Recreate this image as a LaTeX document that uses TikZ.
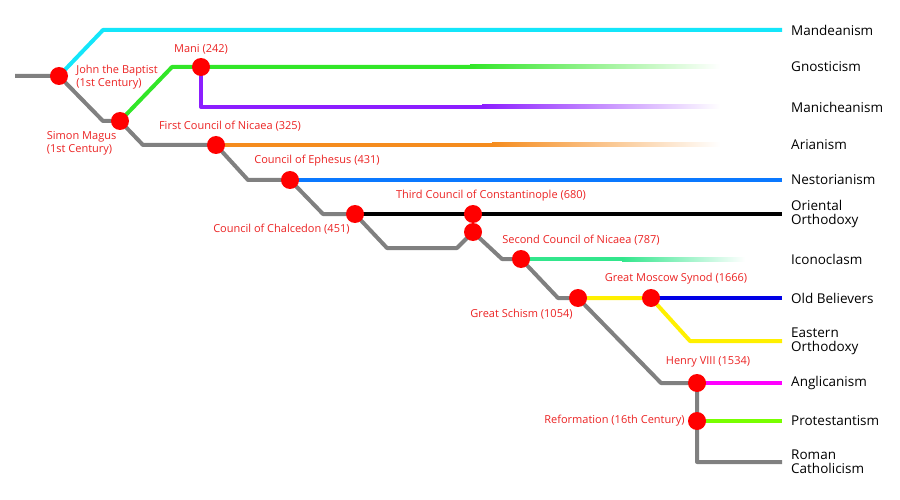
\documentclass[tikz,border=0pt]{standalone}
\usepackage{fontspec}
\setmainfont{Open Sans}
\usetikzlibrary{positioning,calc}

\definecolor{evtred}{RGB}{235,35,35}
\definecolor{trunk}{RGB}{128,128,128}
\definecolor{mandcyan}{RGB}{20,230,250}
\definecolor{gnogreen}{RGB}{50,230,40}
\definecolor{manipurple}{RGB}{140,30,255}
\definecolor{ariorange}{RGB}{245,140,30}
\definecolor{nestblue}{RGB}{10,120,255}
\definecolor{iconteal}{RGB}{50,230,140}
\definecolor{eastyellow}{RGB}{255,240,0}
\definecolor{oldblue}{RGB}{0,0,230}
\definecolor{anglmagenta}{RGB}{255,0,255}
\definecolor{protlime}{RGB}{120,255,0}

\begin{document}
\begin{tikzpicture}[x=1pt, y=-1pt,
    line/.style={line width=4pt, line join=round},
    dot/.style={circle, fill=red, minimum size=18pt, inner sep=0pt},
    evt/.style={text=evtred, font=\fontsize{11}{13}\selectfont, align=left, inner sep=0pt},
    sect/.style={font=\fontsize{13.5}{14}\selectfont, align=left, inner sep=0pt}
    ]
    \useasboundingbox (0,0) rectangle (900,500);

    % branching points
    \coordinate (start)  at (15,76);
    \coordinate (jb)     at (59,76);
    \coordinate (sm)     at (120,121);
    \coordinate (mani)   at (201,67);
    \coordinate (nic1)   at (216,145);
    \coordinate (eph)    at (290,180);
    \coordinate (chal)   at (355,214);
    \coordinate (const3) at (473,214);
    \coordinate (const2) at (473,232);
    \coordinate (nic2)   at (521,259);
    \coordinate (gs)     at (578,298);
    \coordinate (moscow) at (651,298);
    \coordinate (henry)  at (697,383);
    \coordinate (ref)    at (697,421);

    % line ends
    \coordinate (mandend)  at (782,30);
    \coordinate (gnoend)   at (782,67);
    \coordinate (maniend)  at (782,107);
    \coordinate (ariend)   at (782,145);
    \coordinate (nestend)  at (782,180);
    \coordinate (oriend)   at (782,214);
    \coordinate (iconend)  at (782,259);
    \coordinate (oldend)   at (782,298);
    \coordinate (eastend)  at (782,341);
    \coordinate (anglend)  at (782,383);
    \coordinate (protend)  at (782,421);
    \coordinate (romend)   at (782,462);

    % main line
    \draw[line, trunk] (start) -- (jb) -- ++(44,45) -- (sm) -- ++(23,24) -- (nic1)
        -- ++(32,35) -- (eph) -- ++(33,34) -- (chal) -- ++(32,34) -- ++(70,0)
        -- (const2) -- ++(29,27) -- (nic2) -- ++(37,39) -- (gs) -- ++(83,85)
        -- (henry) -- (ref) -- (ref |- romend) -- (romend);

    % branches
    \draw[line, mandcyan] (jb) -- ++(44,-46) -- (mandend);
    \draw[line, gnogreen] (sm) -- ++(52,-54) -- (mani) -- ($(gnoend)+(-312,0)$);
    \shade[left color=gnogreen, right color=white] ($(gnoend)+(-312,-2)$) rectangle ($(gnoend)+(-62,2)$);
    \draw[line, manipurple] (mani) -- (mani |- maniend) -- ($(maniend)+(-300,0)$);
    \shade[left color=manipurple, right color=white] ($(maniend)+(-300,-2)$) rectangle ($(maniend)+(-62,2)$);
    \draw[line, ariorange] (nic1) -- ($(ariend)+(-290,0)$);
    \shade[left color=ariorange, right color=white] ($(ariend)+(-290,-2)$) rectangle ($(ariend)+(-62,2)$);
    \draw[line, nestblue] (eph) -- (nestend);
    \draw[line, black] (chal) -- (const3) -- (oriend);
    \draw[line, iconteal] (nic2) -- ($(iconend)+(-160,0)$);
    \shade[left color=iconteal, right color=white] ($(iconend)+(-160,-2)$) rectangle ($(iconend)+(-37,2)$);
    \draw[line, eastyellow] (gs) -- (moscow) -- ++(39,43) -- (eastend);
    \draw[line, oldblue] (moscow) -- (oldend);
    \draw[line, anglmagenta] (henry) -- (anglend);
    \draw[line, protlime] (ref) -- (protend);

    % events
    \node[dot] (jbdot)     at (jb)     {};
    \node[dot] (smdot)     at (sm)     {};
    \node[dot] (manidot)   at (mani)   {};
    \node[dot] (nic1dot)   at (nic1)   {};
    \node[dot] (ephdot)    at (eph)    {};
    \node[dot] (chaldot)   at (chal)   {};
    \node[dot] (const3dot) at (const3) {};
    \node[dot] (const2dot) at (const2) {};
    \node[dot] (nic2dot)   at (nic2)   {};
    \node[dot] (gsdot)     at (gs)     {};
    \node[dot] (moscowdot) at (moscow) {};
    \node[dot] (henrydot)  at (henry)  {};
    \node[dot] (refdot)    at (ref)    {};

    \node[evt, right=8pt of jbdot, yshift=-1pt]     (jblbl)     {John the Baptist\\(1st Century)};
    \node[evt, below left=4pt and -3pt of smdot]    (smlbl)     {Simon Magus\\(1st Century)};
    \node[evt, above=3pt of manidot]                (manilbl)   {Mani (242)};
    \node[evt, above=4pt of nic1dot, xshift=14pt]   (nic1lbl)   {First Council of Nicaea (325)};
    \node[evt, above=4pt of ephdot, xshift=27pt]    (ephlbl)    {Council of Ephesus (431)};
    \node[evt, above=3pt of const3dot, xshift=18pt] (const3lbl) {Third Council of Constantinople (680)};
    \node[evt, left=-4pt of chaldot, yshift=-15pt]  (challbl)   {Council of Chalcedon (451)};
    \node[evt, above=4pt of nic2dot, xshift=60pt]   (nic2lbl)   {Second Council of Nicaea (787)};
    \node[evt, above=4pt of moscowdot, xshift=25pt] (moscowlbl) {Great Moscow Synod (1666)};
    \node[evt, left=-4pt of gsdot, yshift=-16pt]    (gslbl)     {Great Schism (1054)};
    \node[evt, above=6pt of henrydot, xshift=11pt]  (henrylbl)  {Henry VIII (1534)};
    \node[evt, left=3pt of refdot]                  (reflbl)    {Reformation (16th Century)};

    % denominations
    \node[sect, right=9pt of mandend] (mand) {Mandeanism};
    \node[sect, right=9pt of gnoend]  (gno)  {Gnosticism};
    \node[sect, right=9pt of maniend] (manich) {Manicheanism};
    \node[sect, right=9pt of ariend]  (ari)  {Arianism};
    \node[sect, right=9pt of nestend] (nest) {Nestorianism};
    \node[sect, right=9pt of oriend]  (ori)  {Oriental\\Orthodoxy};
    \node[sect, right=9pt of iconend] (icon) {Iconoclasm};
    \node[sect, right=9pt of oldend]  (old)  {Old Believers};
    \node[sect, right=9pt of eastend] (east) {Eastern\\Orthodoxy};
    \node[sect, right=9pt of anglend] (angl) {Anglicanism};
    \node[sect, right=9pt of protend] (prot) {Protestantism};
    \node[sect, right=9pt of romend]  (rom)  {Roman\\Catholicism};
\end{tikzpicture}
\end{document}
